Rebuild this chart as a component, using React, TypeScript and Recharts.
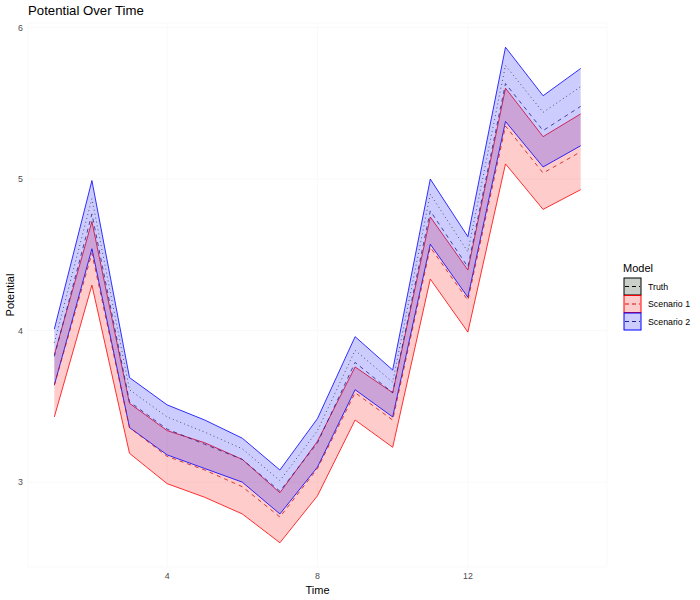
import { ComposedChart, Area, Line, XAxis, YAxis, CartesianGrid, Label } from 'recharts';

const time = [1, 2, 3, 4, 5, 6, 7, 8, 9, 10, 11, 12, 13, 14, 15];
const truth = [3.92, 4.87, 3.61, 3.43, 3.33, 3.22, 3.01, 3.34, 3.87, 3.66, 4.9, 4.52, 5.75, 5.44, 5.61];
const s1Mean = [3.64, 4.51, 3.36, 3.17, 3.08, 2.97, 2.77, 3.09, 3.59, 3.41, 4.55, 4.2, 5.35, 5.04, 5.18];
const s1Lower = [3.43, 4.3, 3.19, 2.99, 2.9, 2.79, 2.6, 2.91, 3.41, 3.23, 4.34, 3.99, 5.1, 4.8, 4.93];
const s1Upper = [3.84, 4.72, 3.52, 3.34, 3.26, 3.15, 2.93, 3.27, 3.76, 3.59, 4.75, 4.4, 5.6, 5.28, 5.43];
const s2Mean = [3.83, 4.77, 3.53, 3.35, 3.25, 3.15, 2.94, 3.26, 3.79, 3.59, 4.79, 4.42, 5.63, 5.32, 5.48];
const s2Lower = [3.64, 4.54, 3.36, 3.18, 3.09, 3.0, 2.79, 3.1, 3.61, 3.43, 4.57, 4.22, 5.38, 5.08, 5.22];
const s2Upper = [4.01, 4.99, 3.69, 3.51, 3.41, 3.29, 3.08, 3.42, 3.96, 3.74, 5.0, 4.62, 5.87, 5.55, 5.73];

const xTicks = [4, 8, 12];
const yTicks = [3, 4, 5, 6];

const legendItems = [
  { name: 'Truth', fill: '#c9cfc9', stroke: '#000000', line: '#000000' },
  { name: 'Scenario 1', fill: '#ffcccc', stroke: '#ff0000', line: '#cc1111' },
  { name: 'Scenario 2', fill: '#ccccff', stroke: '#0000ff', line: '#22228a' },
];

const rows = time.map((t, i) => ({
  time: t,
  truth: truth[i],
  s1: s1Mean[i],
  s2: s2Mean[i],
  s1Band: [s1Lower[i], s1Upper[i]],
  s2Band: [s2Lower[i], s2Upper[i]],
}));

const font = '"Liberation Sans", Arial, sans-serif';

function ModelLegend() {
  return (
    <svg width={80} height={80} style={{ position: 'absolute', left: 620, top: 258, fontFamily: font }}>
      <text x={3} y={14} fontSize={11} fill="#000">Model</text>
      {legendItems.map((it, i) => {
        const y = 20 + i * 17.5;
        return (
          <g key={it.name}>
            <rect x={4} y={y} width={17} height={17} fill={it.fill} stroke={it.stroke} strokeWidth={1} />
            <line x1={5} x2={20} y1={y + 8.5} y2={y + 8.5} stroke={it.line} strokeDasharray="4 3" />
            <text x={28} y={y + 11.5} fontSize={8.8} fill="#000">{it.name}</text>
          </g>
        );
      })}
    </svg>
  );
}

export default function App() {
  return (
    <div style={{ position: 'absolute', left: 0, top: 0, width: 700, height: 600, background: '#fff', fontFamily: font }}>
      <div style={{ position: 'absolute', left: 28, top: 3, fontSize: 13.2, color: '#000', lineHeight: '16px' }}>
        Potential Over Time
      </div>
      <ComposedChart width={700} height={600} data={rows} margin={{ top: 23, right: 93, bottom: 0, left: 0 }}>
        <CartesianGrid stroke="#f9f9f9" />
        <XAxis
          dataKey="time"
          type="number"
          domain={[0.3, 15.7]}
          ticks={xTicks}
          allowDataOverflow
          height={33}
          axisLine={false}
          tickLine={false}
          tickSize={0}
          tickMargin={6}
          tick={{ fontSize: 8.8, fill: '#4d4d4d', fontFamily: font }}
        >
          <Label value="Time" position="insideBottom" offset={6} style={{ fontSize: 11, fill: '#000', fontFamily: font }} />
        </XAxis>
        <YAxis
          type="number"
          domain={[2.44, 6.03]}
          ticks={yTicks}
          allowDataOverflow
          width={28}
          axisLine={false}
          tickLine={false}
          tickSize={0}
          tickMargin={5}
          tick={{ fontSize: 8.8, fill: '#4d4d4d', fontFamily: font }}
        >
          <Label value="Potential" angle={-90} position="center" dx={-4} style={{ fontSize: 11, fill: '#000', fontFamily: font }} />
        </YAxis>
        <Area type="linear" dataKey="s1Band" fill="#ff0000" fillOpacity={0.2} stroke="#ff0000" strokeWidth={0.8} isAnimationActive={false} />
        <Area type="linear" dataKey="s2Band" fill="#0000ff" fillOpacity={0.2} stroke="#0000ff" strokeWidth={0.8} isAnimationActive={false} />
        <Line type="linear" dataKey="s1" stroke="#cc1111" strokeWidth={0.8} strokeDasharray="4 4" dot={false} isAnimationActive={false} />
        <Line type="linear" dataKey="s2" stroke="#22228a" strokeWidth={0.8} strokeDasharray="4 4" dot={false} isAnimationActive={false} />
        <Line type="linear" dataKey="truth" stroke="#333333" strokeWidth={0.8} strokeDasharray="1 3" dot={false} isAnimationActive={false} />
      </ComposedChart>
      <ModelLegend />
    </div>
  );
}
